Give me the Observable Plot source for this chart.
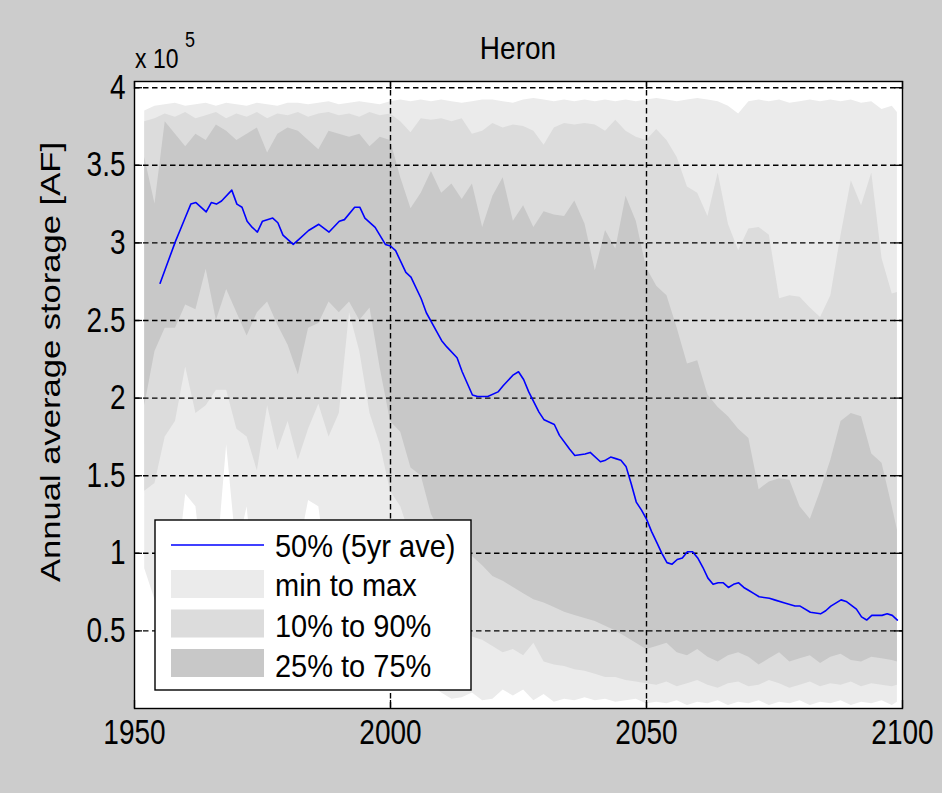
<!DOCTYPE html>
<html><head><meta charset="utf-8">
<script src="https://cdn.jsdelivr.net/npm/d3@7"></script>
<script src="https://cdn.jsdelivr.net/npm/@observablehq/plot@0.6"></script>
<style>
html,body{margin:0;padding:0;background:#cccccc;}
#chart{position:relative;width:942px;height:793px;overflow:hidden;}
</style></head><body><div id="chart"></div>
<script>
// ---- text ----
const titleText = "Heron";
const yLabelText = "Annual average storage [AF]";
const expBase = "x 10";
const expPower = "5";
const legendLabels = ["50% (5yr ave)", "min to max", "10% to 90%", "25% to 75%"];

// ---- ticks (values in units of 10^5 AF) ----
const xTicks = [1950, 2000, 2050, 2100];
const xGrid = [2000, 2050];
const yTicks = [0.5, 1, 1.5, 2, 2.5, 3, 3.5, 4];

// ---- percentile bands (x 10^5 AF) ----
const years = [1952,1954,1956,1958,1960,1962,1964,1966,1968,1970,1972,1974,1976,1978,1980,1982,1984,1986,1988,1990,
  1992,1994,1996,1998,2000,2002,2004,2006,2008,2010,2012,2014,2016,2018,2020,2022,2024,2026,2028,2030,
  2032,2034,2036,2038,2040,2042,2044,2046,2048,2050,2052,2054,2056,2058,2060,2062,2064,2066,2068,2070,
  2072,2074,2076,2078,2080,2082,2084,2086,2088,2090,2092,2094,2096,2098,2099];
const maxVals = [3.85,3.88,3.89,3.90,3.88, 3.89,3.90,3.88,3.90,3.89, 3.88,3.90,3.89,3.88,3.90, 3.90,3.89,3.90,3.91,3.89,
  3.90,3.91,3.90,3.89,3.91, 3.92,3.91,3.92,3.91,3.92, 3.91,3.90,3.91,3.92,3.92, 3.91,3.90,3.92,3.93,3.92,
  3.91,3.92,3.91,3.92,3.91, 3.92,3.91,3.92,3.91,3.92, 3.93,3.92,3.91,3.92,3.93, 3.92,3.91,3.88,3.83,3.91,
  3.92,3.91,3.92,3.90,3.91, 3.92,3.91,3.92,3.91,3.92, 3.90,3.91,3.86,3.88,3.84];
const p90Vals = [3.78,3.80,3.83,3.81,3.84, 3.80,3.82,3.84,3.80,3.83, 3.81,3.84,3.80,3.83,3.82, 3.84,3.81,3.83,3.84,3.82,
  3.83,3.81,3.84,3.82,3.83, 3.78,3.71,3.80,3.79,3.80, 3.78,3.80,3.70,3.72,3.77, 3.74,3.76,3.75,3.72,3.63,
  3.74,3.77,3.76,3.77,3.76, 3.72,3.79,3.72,3.68,3.66, 3.73,3.66,3.55,3.36,3.32, 3.17,3.45,3.12,2.95,3.09,
  3.10,3.05,2.64,2.66,2.65, 2.58,2.52,2.66,3.05,3.40, 3.24,3.45,2.90,2.67,2.68];
const p75Vals = [3.55,3.25,3.78,3.70,3.62, 3.70,3.66,3.76,3.72,3.66, 3.70,3.74,3.58,3.70,3.74, 3.72,3.66,3.60,3.72,3.70,
  3.68,3.70,3.62,3.68,3.66, 3.42,3.22,3.32,3.46,3.32, 3.38,3.28,3.38,3.10,3.30, 3.42,3.14,3.24,3.10,3.20,
  3.18,3.17,3.27,3.12,2.82, 3.08,2.96,3.30,3.14,2.84, 2.72,2.66,2.45,2.22,2.24, 2.02,1.94,1.88,1.80,1.74,
  1.41,1.46,1.48,1.47,1.30, 1.22,1.40,1.60,1.85,1.90, 1.88,1.64,1.58,1.30,1.15];
const p25Vals = [1.95,2.30,2.45,2.45,2.60, 2.57,2.83,2.50,2.70,2.55, 2.40,2.55,2.62,2.47,2.34, 2.15,2.45,2.48,2.62,2.55,
  2.62,2.50,2.58,2.19,1.85, 1.78,1.55,1.50,1.25,1.12, 1.05,1.02,0.98,0.92,0.85, 0.82,0.78,0.74,0.70,0.68,
  0.65,0.62,0.60,0.58,0.56, 0.53,0.50,0.46,0.42,0.38, 0.40,0.42,0.36,0.34,0.38, 0.33,0.30,0.34,0.36,0.33,
  0.28,0.32,0.36,0.30,0.32, 0.34,0.29,0.33,0.35,0.31, 0.30,0.33,0.32,0.31,0.30];
const p10Vals = [1.40,1.45,1.75,1.85,2.20, 1.90,1.95,2.05,2.05,1.80, 1.75,1.53,1.95,1.66,1.85, 1.60,1.80,1.96,1.75,1.90,
  2.55,2.30,1.90,1.70,1.40, 1.30,1.10,0.95,0.80,0.70, 0.60,0.52,0.46,0.44,0.40, 0.36,0.38,0.34,0.42,0.30,
  0.28,0.27,0.25,0.24,0.22, 0.20,0.20,0.18,0.17,0.16, 0.15,0.17,0.14,0.16,0.18, 0.15,0.13,0.16,0.17,0.14,
  0.15,0.18,0.16,0.13,0.15, 0.17,0.14,0.16,0.15,0.17, 0.14,0.16,0.15,0.14,0.15];
const minVals = [0.90,0.70,0.60,0.80,1.38, 1.30,0.70,0.90,1.70,1.00, 1.30,0.60,0.80,0.90,0.70, 1.00,1.34,1.30,0.80,0.60,
  0.50,0.60,0.40,0.30,0.30, 0.25,0.20,0.18,0.15,0.10, 0.06,0.07,0.10,0.05,0.06, 0.12,0.08,0.12,0.05,0.09,
  0.04,0.06,0.05,0.07,0.05, 0.06,0.04,0.05,0.06,0.03, 0.04,0.03,0.05,0.02,0.04, 0.03,0.05,0.02,0.04,0.03,
  0.05,0.02,0.04,0.03,0.05, 0.02,0.04,0.03,0.05,0.02, 0.04,0.03,0.05,0.02,0.04];

// ---- 50% (5yr average) line (x 10^5 AF) ----
const medianYears = [1955,1956,1958,1959,1960,1961,1962,1964,1965,1966,1967,1969,1970,1971,1972,1973,1974,1975,1977,1978,
  1979,1981,1982,1984,1986,1988,1990,1991,1993,1994,1995,1997,1999,2000,2001,2003,2004,2006,2007,2009,
  2010,2011,2013,2014,2016,2017,2019,2021,2022,2024,2025,2026,2027,2029,2030,2032,2033,2035,2036,2038,
  2039,2041,2042,2043,2044,2045,2046,2047,2048,2049,2050,2051,2052,2053,2054,2055,2056,2057,2058,2059,
  2060,2061,2062,2063,2064,2065,2066,2067,2068,2069,2070,2071,2072,2074,2075,2077,2079,2080,2082,2084,
  2085,2086,2088,2089,2091,2092,2093,2094,2096,2097,2098,2099];
const medianVals = [2.74,2.83,3.01,3.09,3.17,3.25,3.26,3.20,3.26,3.25,3.27,3.34,3.25,3.23,3.14,3.10,3.07,3.14,3.16,3.13,
  3.05,2.99,3.02,3.08,3.12,3.07,3.14,3.15,3.23,3.23,3.16,3.10,2.99,2.98,2.95,2.81,2.78,2.64,2.55,2.43,
  2.37,2.33,2.26,2.17,2.02,2.01,2.01,2.04,2.08,2.15,2.17,2.12,2.04,1.91,1.86,1.83,1.76,1.67,1.63,1.64,
  1.65,1.59,1.60,1.62,1.61,1.60,1.56,1.45,1.33,1.28,1.22,1.14,1.07,1.00,0.94,0.93,0.96,0.97,1.01,1.01,
  0.97,0.91,0.84,0.80,0.81,0.81,0.78,0.80,0.81,0.78,0.76,0.74,0.72,0.71,0.70,0.68,0.66,0.66,0.62,0.61,
  0.63,0.66,0.70,0.69,0.64,0.59,0.57,0.60,0.60,0.61,0.60,0.57];

// ---- colours ----
const colMedian = "#0000ff";
const colMinMax = "#ebebeb";
const colP1090 = "#dcdcdc";
const colP2575 = "#c8c8c8";
const colFigure = "#cccccc";

// ---- build tables ----
const bands = years.map((year, i) => ({
  year, min: minVals[i], p10: p10Vals[i], p25: p25Vals[i], p75: p75Vals[i], p90: p90Vals[i], max: maxVals[i]
}));
const median = medianYears.map((year, i) => ({year, value: medianVals[i]}));

const W = 942, H = 793, mL = 134, mR = 40, mT = 81, mB = 85;
const frameW = W - mL - mR, frameH = H - mT - mB;
const font = "'Liberation Sans', Arial, Helvetica, sans-serif";
const dash = "5.5,3.5";

const chart = Plot.plot({
  width: W, height: H,
  marginLeft: mL, marginRight: mR, marginTop: mT, marginBottom: mB,
  style: {background: colFigure, fontFamily: font, fontSize: "28px", color: "black"},
  x: {domain: [1950, 2100]},
  y: {domain: [0, 4.04]},
  marks: [
    Plot.frame({fill: "white"}),
    Plot.areaY(bands, {x: "year", y1: "min", y2: "max", fill: colMinMax}),
    Plot.areaY(bands, {x: "year", y1: "p10", y2: "p90", fill: colP1090}),
    Plot.areaY(bands, {x: "year", y1: "p25", y2: "p75", fill: colP2575}),
    Plot.ruleX(xGrid, {stroke: "black", strokeWidth: 1.4, strokeDasharray: dash}),
    Plot.ruleY(yTicks, {stroke: "black", strokeWidth: 1.4, strokeDasharray: dash}),
    Plot.lineY(median, {x: "year", y: "value", stroke: colMedian, strokeWidth: 1.6}),
    // inward tick marks on all four sides
    Plot.tickX(xTicks, {x: d => d, insetTop: frameH - 8, stroke: "black", strokeWidth: 1.3}),
    Plot.tickX(xTicks, {x: d => d, insetBottom: frameH - 8, stroke: "black", strokeWidth: 1.3}),
    Plot.tickY(yTicks, {y: d => d, insetRight: frameW - 8, stroke: "black", strokeWidth: 1.3}),
    Plot.tickY(yTicks, {y: d => d, insetLeft: frameW - 8, stroke: "black", strokeWidth: 1.3}),
    Plot.axisX({ticks: xTicks, tickSize: 0, tickPadding: 14, tickFormat: d => String(d), label: null, fontSize: 28}),
    Plot.axisY({ticks: yTicks, tickSize: 0, tickPadding: 9, tickFormat: d => String(d), label: null, fontSize: 28}),
    Plot.frame({stroke: "black", strokeWidth: 1.4})
  ]
});

document.getElementById("chart").appendChild(chart);
const svg = d3.select(chart);

// stretch text vertically around its own centre (the reference glyphs are taller than wide)
function stretch(node, s) {
  const b = node.getBBox();
  const cy = b.y + b.height / 2;
  const t = node.getAttribute("transform") || "";
  node.setAttribute("transform", `${t} translate(0,${cy}) scale(1,${s}) translate(0,${-cy})`);
}
svg.selectAll("text").each(function() { stretch(this, 1.22); });

function addText(x, y, str, size, anchor, s) {
  const n = svg.append("text").attr("x", x).attr("y", y)
    .attr("text-anchor", anchor).attr("font-family", font).attr("font-size", size)
    .attr("fill", "black").text(str).node();
  stretch(n, s);
  return n;
}

// title
addText(mL + frameW / 2, 58, titleText, 28, "middle", 1.12);
// exponent label
addText(135, 66, expBase, 23, "start", 1.2);
addText(185, 46, expPower, 18, "start", 1.2);

// y label
svg.append("text")
  .attr("transform", "translate(60,362) rotate(-90)")
  .attr("text-anchor", "middle").attr("font-family", font).attr("font-size", 28)
  .attr("textLength", 440).attr("lengthAdjust", "spacingAndGlyphs")
  .attr("fill", "black").text(yLabelText);

// legend
const lg = svg.append("g");
lg.append("rect").attr("x", 155).attr("y", 520).attr("width", 316).attr("height", 170)
  .attr("fill", "white").attr("stroke", "black").attr("stroke-width", 1.4);
lg.append("line").attr("x1", 171).attr("x2", 264).attr("y1", 545).attr("y2", 545)
  .attr("stroke", colMedian).attr("stroke-width", 1.6);
const patchCols = [colMinMax, colP1090, colP2575];
patchCols.forEach((c, i) => {
  lg.append("rect").attr("x", 171).attr("y", 570 + i * 39.5).attr("width", 93).attr("height", 28).attr("fill", c);
});
const baselines = [556, 595, 636, 676];
legendLabels.forEach((t, i) => {
  const n = lg.append("text").attr("x", 275).attr("y", baselines[i]).attr("font-family", font)
    .attr("text-anchor", "start").attr("font-size", 29).attr("fill", "black").text(t).node();
  stretch(n, 1.1);
});
</script></body></html>
